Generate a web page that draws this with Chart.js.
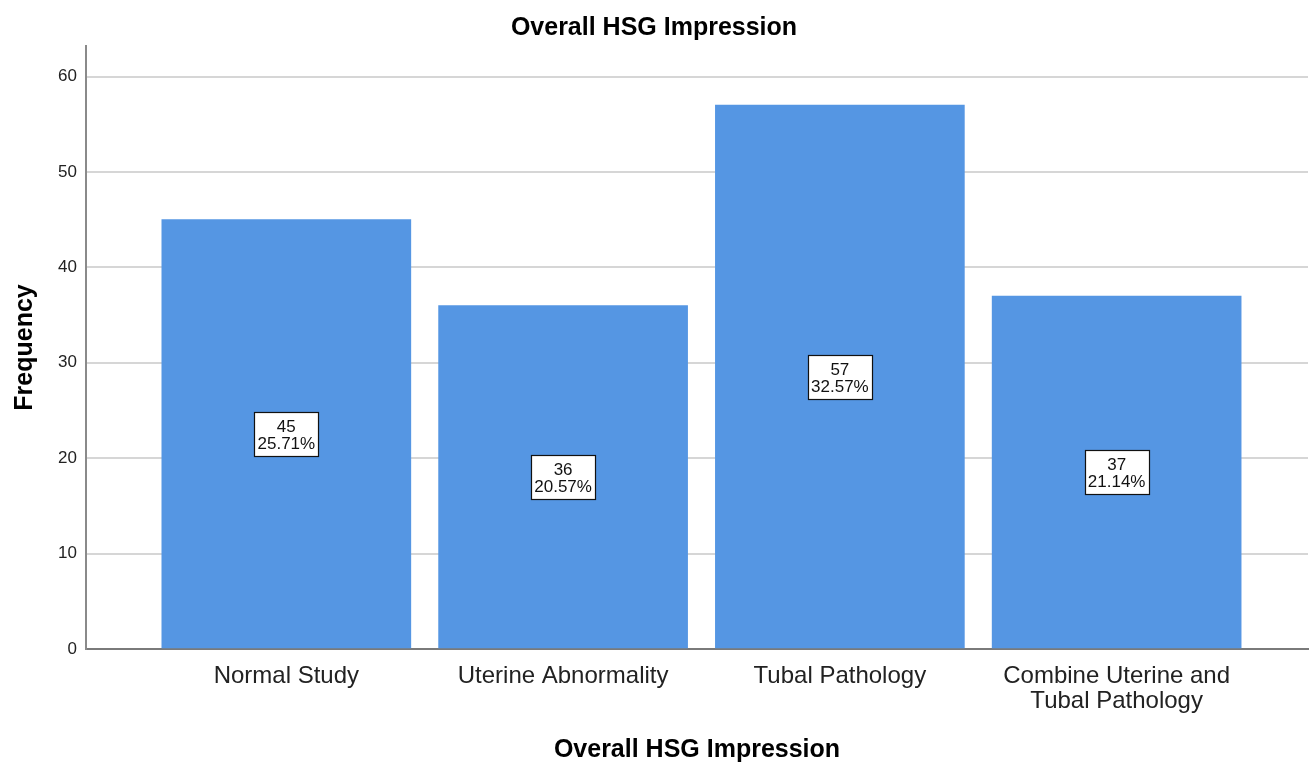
<!DOCTYPE html>
<html>
<head>
<meta charset="utf-8">
<script src="https://cdn.jsdelivr.net/npm/chart.js@4"></script>
<style>
  html, body { margin: 0; padding: 0; background: #fff; }
  #wrap { width: 1309px; height: 763px; }
</style>
</head>
<body>
<div id="wrap"><canvas id="chart"></canvas></div>
<script>
// data
const categories = [
  "Normal Study",
  "Uterine Abnormality",
  "Tubal Pathology",
  ["Combine Uterine and", "Tubal Pathology"],
];
const counts = [45, 36, 57, 37];
const percents = ["25.71%", "20.57%", "32.57%", "21.14%"];
const yTicks = [0, 10, 20, 30, 40, 50, 60];

const FONT = "'Liberation Sans', Arial, sans-serif";

// white boxes with count and percent in the middle of each bar
const boxLabels = {
  id: "boxLabels",
  afterDatasetsDraw(chart) {
    const ctx = chart.ctx;
    const meta = chart.getDatasetMeta(0);
    const yScale = chart.scales.y;
    ctx.save();
    ctx.textAlign = "center";
    ctx.textBaseline = "middle";
    meta.data.forEach((bar, i) => {
      const cx = bar.x;
      const cy = yScale.getPixelForValue(counts[i] / 2);
      const line1 = String(counts[i]);
      const line2 = percents[i];
      ctx.font = "17px " + FONT;
      const w = Math.round(Math.max(ctx.measureText(line1).width, ctx.measureText(line2).width) + 6);
      const h = 44;
      const bx = Math.round(cx - w / 2) + 0.5;
      const by = Math.round(cy - h / 2) + 0.5;
      ctx.fillStyle = "#ffffff";
      ctx.fillRect(bx, by, w, h);
      ctx.strokeStyle = "#111";
      ctx.lineWidth = 1.2;
      ctx.strokeRect(bx, by, w, h);
      ctx.fillStyle = "#111";
      ctx.fillText(line1, cx, cy - 7);
      ctx.fillText(line2, cx, cy + 10);
    });
    ctx.restore();
  },
};

new Chart(document.getElementById("chart"), {
  type: "bar",
  data: {
    datasets: [
      {
        label: "Frequency",
        data: counts.map((v, i) => ({ x: i + 1, y: v })),
        backgroundColor: "#5596e3",
        borderWidth: 0,
        barThickness: 249,
      },
    ],
  },
  options: {
    responsive: true,
    maintainAspectRatio: false,
    animation: false,
    layout: { padding: { left: 0, right: 1, top: 0, bottom: 0 } },
    plugins: {
      legend: { display: false },
      tooltip: { enabled: false },
      title: {
        display: true,
        text: "Overall HSG Impression",
        color: "#000",
        font: { family: FONT, size: 25, weight: "bold", lineHeight: 1 },
        padding: { top: 16, bottom: 5 },
      },
    },
    scales: {
      x: {
        type: "linear",
        offset: false,
        min: 0.2762,
        max: 4.6914,
        grid: { display: false, drawTicks: false },
        border: { display: true, color: "#7a7a7a", width: 2 },
        afterBuildTicks(scale) {
          scale.ticks = categories.map((c, i) => ({ value: i + 1 }));
        },
        afterFit(scale) {
          scale.height = 114;
        },
        ticks: {
          color: "#222",
          font: { family: FONT, size: 24, lineHeight: 1.05 },
          padding: 15,
          maxRotation: 0,
          autoSkip: false,
          callback: (v) => categories[Math.round(v) - 1],
        },
        title: {
          display: true,
          text: "Overall HSG Impression",
          color: "#000",
          font: { family: FONT, size: 25, weight: "bold", lineHeight: 1 },
          padding: { top: 0, bottom: 0 },
        },
      },
      y: {
        min: 0,
        max: 63.2,
        grid: {
          drawTicks: false,
          lineWidth: 2,
          color: (c) => (c.tick && c.tick.value === 0 ? "rgba(0,0,0,0)" : "#d6d6d6"),
        },
        border: { display: true, color: "#8a8a8a", width: 2 },
        afterBuildTicks(scale) {
          scale.ticks = yTicks.map((v) => ({ value: v }));
        },
        afterFit(scale) {
          scale.width = 86;
        },
        ticks: {
          color: "#222",
          font: { family: FONT, size: 17 },
          padding: 9,
        },
        title: {
          display: true,
          text: "Frequency",
          color: "#000",
          font: { family: FONT, size: 25, weight: "bold", lineHeight: 1 },
          padding: { top: 13, bottom: 13 },
        },
      },
    },
  },
  plugins: [boxLabels],
});
</script>
</body>
</html>
